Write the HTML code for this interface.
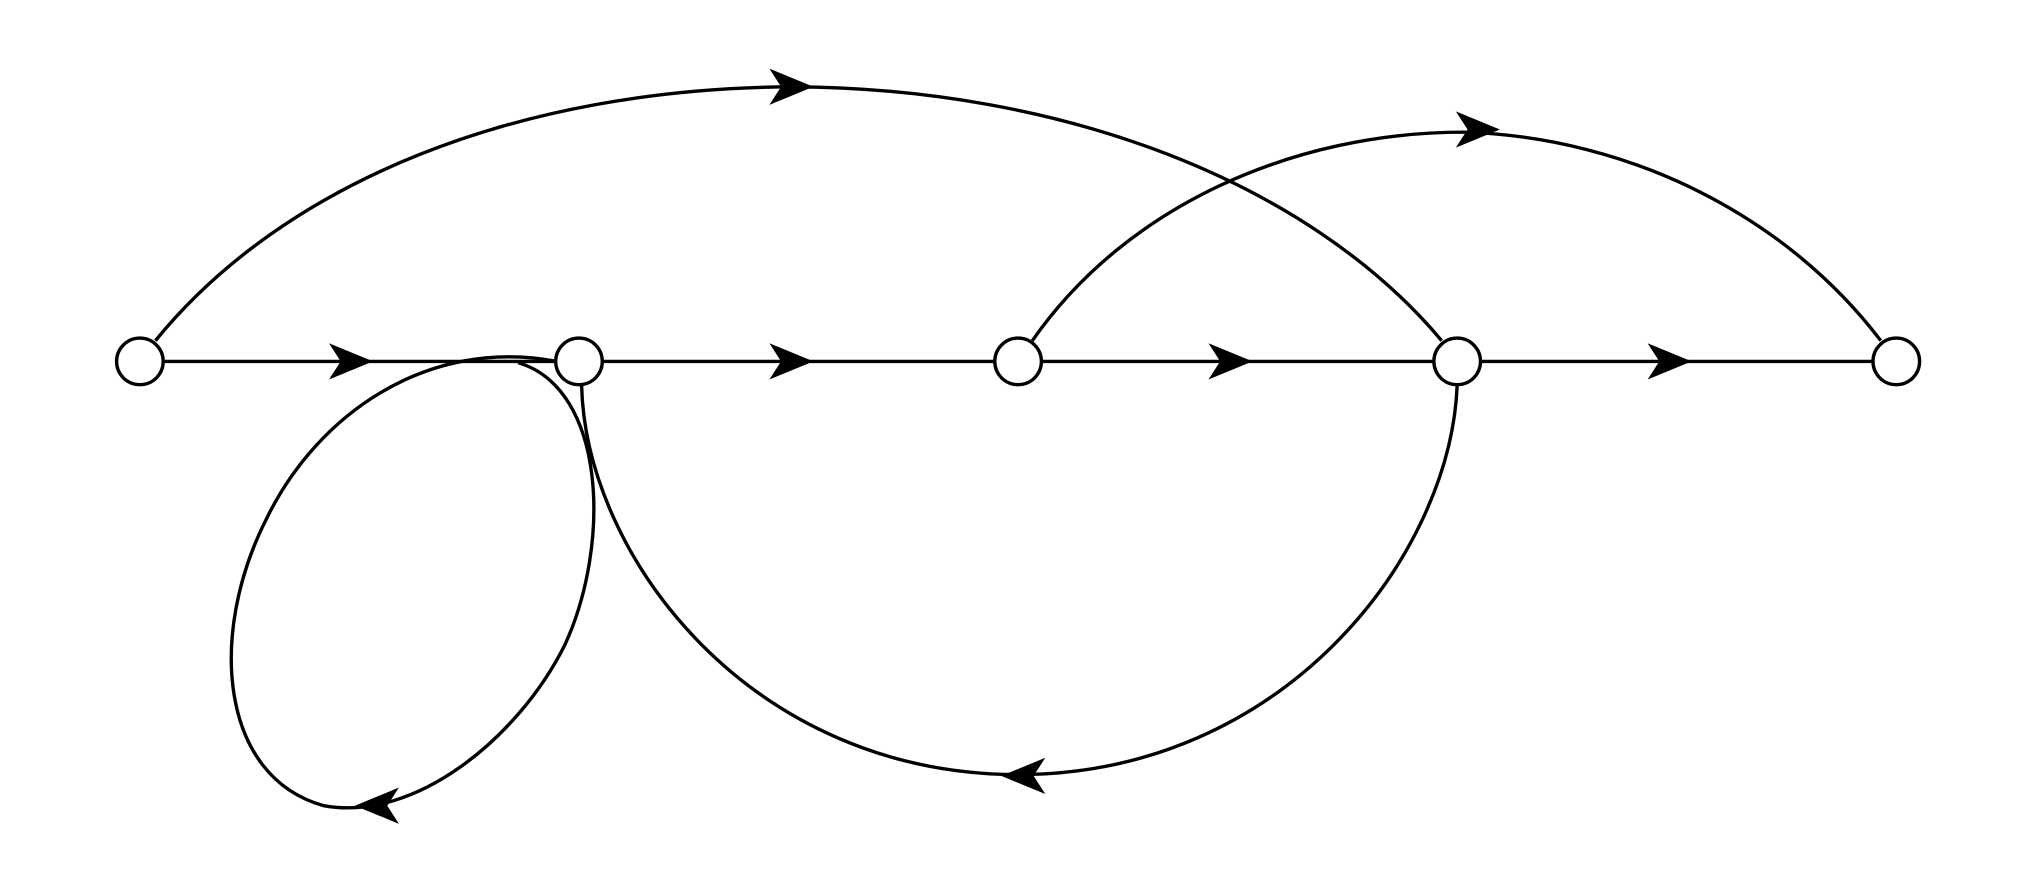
<!DOCTYPE html>
<html><head><meta charset="utf-8"><style>html,body{margin:0;padding:0;background:#fff}svg{display:block}</style></head>
<body>
<svg width="2031" height="886" viewBox="0 0 1568 684" preserveAspectRatio="none" xmlns="http://www.w3.org/2000/svg">
<defs>
<polygon id="ar" points="-18,-14 16,0 -18,14 -9,0" fill="#000"/>
</defs>
<g fill="none" stroke="#000" stroke-width="2.6">
<line x1="126" y1="279" x2="429" y2="279"/>
<line x1="465" y1="279" x2="768" y2="279"/>
<line x1="804" y1="279" x2="1107" y2="279"/>
<line x1="1143" y1="279" x2="1446" y2="279"/>
<path d="M120 263 C 220 140, 400 68, 612 67 C 820 68, 1010 140, 1113 263"/>
<path d="M797 263 C 870 158, 1000 102, 1130 102 C 1260 106, 1380 168, 1452 263"/>
<path d="M1125 297 C 1120 430, 990 598, 786 598 C 580 598, 452 430, 449 297"/>
<path d="M430 279 C 330 260, 245 320, 206 400 C 160 490, 170 600, 250 622 C 320 635, 400 570, 436 498 C 472 420, 468 300, 400 280"/>
</g>
<g fill="#fff" stroke="#000" stroke-width="2.6">
<circle cx="108" cy="279" r="18"/>
<circle cx="447" cy="279" r="18"/>
<circle cx="786" cy="279" r="18"/>
<circle cx="1125" cy="279" r="18"/>
<circle cx="1464" cy="279" r="18"/>
</g>
<use href="#ar" x="272" y="279"/>
<use href="#ar" x="612" y="279"/>
<use href="#ar" x="951" y="279"/>
<use href="#ar" x="1290" y="279"/>
<use href="#ar" x="612" y="67"/>
<use href="#ar" x="1142" y="100"/>
<use href="#ar" transform="translate(789,599) rotate(180)"/>
<use href="#ar" transform="translate(290,622) rotate(180)"/>
</svg>
</body></html>
